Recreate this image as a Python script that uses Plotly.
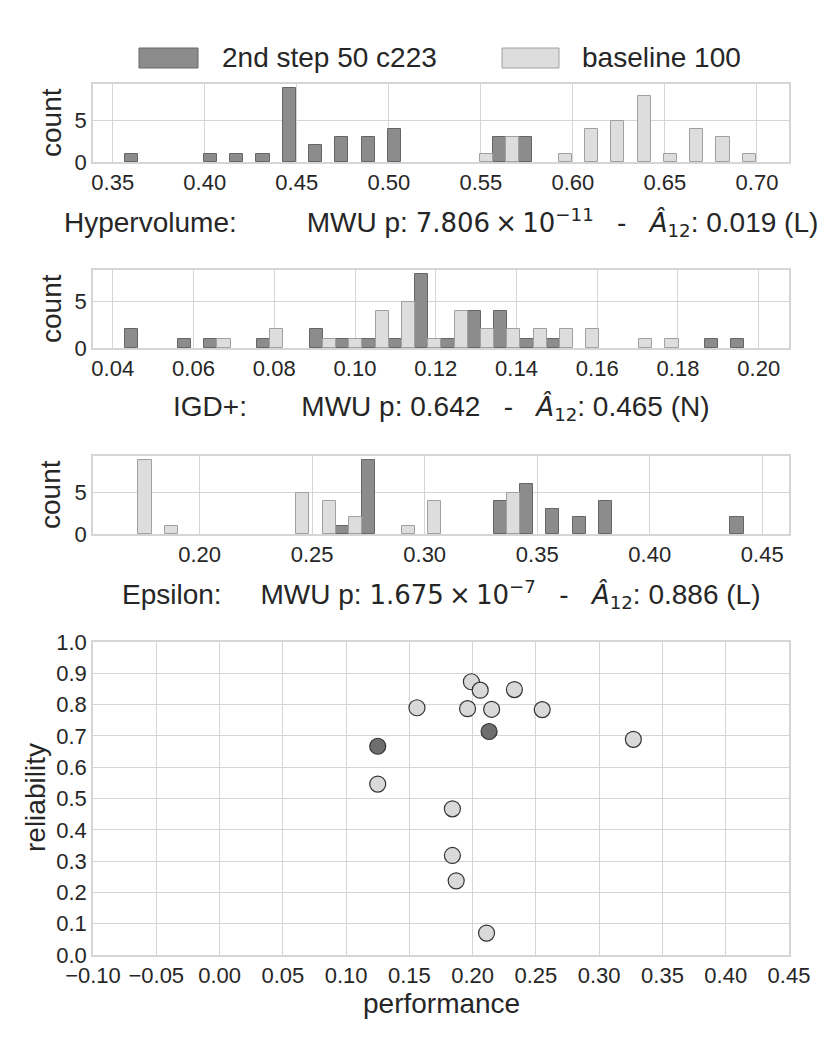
import numpy as np
import plotly.graph_objects as go
from plotly.subplots import make_subplots

# --- data ------------------------------------------------------------------
series_names = ["2nd step 50 c223", "baseline 100"]

# histogram bins (24 bins per metric) and counts per series
hv_bin_start, hv_bin_width = 0.3567, 0.01428
hv_step2 = [1, 0, 0, 1, 1, 1, 9, 2, 3, 3, 4, 0, 0, 0, 3, 3, 0, 0, 0, 0, 0, 0, 0, 0]
hv_base = [0, 0, 0, 0, 0, 0, 0, 0, 0, 0, 0, 0, 0, 1, 3, 0, 1, 4, 5, 8, 1, 4, 3, 1]

igd_bin_start, igd_bin_width = 0.04307, 0.006527
igd_step2 = [2, 0, 1, 1, 0, 1, 0, 2, 1, 1, 1, 8, 1, 4, 4, 1, 1, 0, 0, 0, 0, 0, 1, 1]
igd_base = [0, 0, 0, 1, 0, 2, 0, 1, 1, 4, 5, 1, 4, 2, 2, 2, 2, 2, 0, 1, 1, 0, 0, 0]

eps_bin_start, eps_bin_width = 0.1669, 0.011695
eps_step2 = [0, 0, 0, 0, 0, 0, 0, 0, 1, 9, 0, 0, 0, 0, 4, 6, 3, 2, 4, 0, 0, 0, 0, 2]
eps_base = [9, 1, 0, 0, 0, 0, 5, 4, 2, 0, 1, 4, 0, 0, 5, 0, 0, 0, 0, 0, 0, 0, 0, 0]

# scatter: performance vs reliability
perf_step2 = [0.125, 0.213]
rel_step2 = [0.667, 0.714]
perf_base = [0.199, 0.206, 0.233, 0.156, 0.196, 0.215, 0.255, 0.327,
             0.125, 0.184, 0.184, 0.187, 0.211]
rel_base = [0.873, 0.846, 0.848, 0.790, 0.787, 0.785, 0.784, 0.689,
            0.546, 0.467, 0.318, 0.237, 0.070]

# stats lines under each histogram
nb = "\u00a0"
th = "\u2009"
math_span = "<span style='font-family:DejaVu Sans;font-size:26px'>{}</span>"
a12 = math_span.format("<i>Â</i><sub>12</sub>")
hv_label = ("Hypervolume:" + nb * 9 + "MWU p: "
            + math_span.format(f"7.806{th}×{th}10<sup>−11</sup>")
            + nb * 3 + "-" + nb * 3 + a12 + ": 0.019 (L)")
igd_label = ("IGD+:" + nb * 7 + "MWU p: 0.642" + nb * 3 + "-" + nb * 3
             + a12 + ": 0.465 (N)")
eps_label = ("Epsilon:" + nb * 5 + "MWU p: "
             + math_span.format(f"1.675{th}×{th}10<sup>−7</sup>")
             + nb * 3 + "-" + nb * 3 + a12 + ": 0.886 (L)")

# --- styling ---------------------------------------------------------------
dark_fill, dark_edge = "#8c8c8c", "#666666"
light_fill, light_edge = "#dddddd", "#a0a0a0"
grid = "#d5d5d5"
txt = "#262626"
font = "Liberation Sans"

W, H = 830, 1038
OFF = 8  # the page body adds an 8px margin around the plot div


def px_x(x):
    return (x - OFF) / W


def px_y(y):
    return 1 - (y - OFF) / H


x_dom = [px_x(93), px_x(789)]


def ydom(top_px, bottom_px):
    return [px_y(bottom_px), px_y(top_px)]


fig = make_subplots(rows=4, cols=1)

hists = [
    (hv_bin_start, hv_bin_width, hv_step2, hv_base),
    (igd_bin_start, igd_bin_width, igd_step2, igd_base),
    (eps_bin_start, eps_bin_width, eps_step2, eps_base),
]
for row, (start, width, c1, c2) in enumerate(hists, start=1):
    centers = start + width * (np.arange(len(c1)) + 0.5)
    # empty bins get no outline so they don't leave stubs on the baseline
    lw1 = [1 if c > 0 else 0 for c in c1]
    lw2 = [1 if c > 0 else 0 for c in c2]
    fig.add_trace(go.Bar(x=centers, y=c1, name=series_names[0], showlegend=False,
                         marker=dict(color=dark_fill, line=dict(color=dark_edge, width=lw1))),
                  row=row, col=1)
    fig.add_trace(go.Bar(x=centers, y=c2, name=series_names[1], showlegend=False,
                         marker=dict(color=light_fill, line=dict(color=light_edge, width=lw2))),
                  row=row, col=1)

fig.add_trace(go.Scatter(x=perf_base, y=rel_base, mode="markers", showlegend=False,
                         marker=dict(size=16, color="#d9d9d9",
                                     line=dict(color="#333333", width=1.2))),
              row=4, col=1)
fig.add_trace(go.Scatter(x=perf_step2, y=rel_step2, mode="markers", showlegend=False,
                         marker=dict(size=16, color="#6e6e6e",
                                     line=dict(color="#333333", width=1.2))),
              row=4, col=1)

axis_common = dict(showgrid=True, gridcolor=grid, gridwidth=1.3, showline=True,
                   linecolor=grid, linewidth=1.5, mirror=True, zeroline=False,
                   automargin=False, ticks="",
                   tickfont=dict(family=font, size=22, color=txt))

# histogram axes
fig.update_xaxes(axis_common, row=1, col=1, domain=x_dom, range=[0.3393, 0.7174],
                 tickvals=[0.35, 0.40, 0.45, 0.50, 0.55, 0.60, 0.65, 0.70], tickformat=".2f")
fig.update_xaxes(axis_common, row=2, col=1, domain=x_dom, range=[0.0351, 0.2075],
                 tickvals=[0.04, 0.06, 0.08, 0.10, 0.12, 0.14, 0.16, 0.18, 0.20], tickformat=".2f")
fig.update_xaxes(axis_common, row=3, col=1, domain=x_dom, range=[0.1526, 0.4619],
                 tickvals=[0.20, 0.25, 0.30, 0.35, 0.40, 0.45], tickformat=".2f")
fig.update_yaxes(axis_common, row=1, col=1, domain=ydom(84, 162), range=[0, 9.45], tickvals=[0, 5])
fig.update_yaxes(axis_common, row=2, col=1, domain=ydom(270, 348), range=[0, 8.4], tickvals=[0, 5])
fig.update_yaxes(axis_common, row=3, col=1, domain=ydom(456, 534), range=[0, 9.45], tickvals=[0, 5])

# scatter axes
fig.update_xaxes(axis_common, row=4, col=1, domain=x_dom, range=[-0.10, 0.45],
                 dtick=0.05, tick0=-0.10, tickformat=".2f")
fig.update_yaxes(axis_common, row=4, col=1, domain=ydom(642, 955), range=[0, 1.0],
                 dtick=0.1, tick0=0, tickformat=".1f")

ann = []
label_font = dict(family=font, size=28, color=txt)
for y_px in (123, 309, 495):
    ann.append(dict(text="count", x=px_x(51), y=px_y(y_px), xref="paper", yref="paper",
                    textangle=-90, showarrow=False, font=label_font,
                    xanchor="center", yanchor="middle"))
for text, y_px in ((hv_label, 222), (igd_label, 408), (eps_label, 594)):
    ann.append(dict(text=text, x=px_x(441), y=px_y(y_px), xref="paper", yref="paper",
                    showarrow=False, font=label_font, xanchor="center", yanchor="middle"))
ann.append(dict(text="performance", x=px_x(441), y=px_y(1003), xref="paper", yref="paper",
                showarrow=False, font=label_font, xanchor="center", yanchor="middle"))
ann.append(dict(text="reliability", x=px_x(35), y=px_y(798), xref="paper", yref="paper",
                textangle=-90, showarrow=False, font=label_font,
                xanchor="center", yanchor="middle"))

# legend drawn as patches + labels (matplotlib-like wide swatches)
shapes = []
for (x0, x1, tx), name, fill, edge in zip(((139, 198, 220), (502, 559, 580)),
                                          series_names, (dark_fill, light_fill),
                                          (dark_edge, light_edge)):
    shapes.append(dict(type="rect", xref="paper", yref="paper",
                       x0=px_x(x0), x1=px_x(x1), y0=px_y(68), y1=px_y(48),
                       fillcolor=fill, line=dict(color=edge, width=1)))
    ann.append(dict(text=name, x=px_x(tx), y=px_y(58), xref="paper", yref="paper",
                    showarrow=False, font=label_font, xanchor="left", yanchor="middle"))

fig.update_layout(
    width=W, height=H,
    margin=dict(l=0, r=0, t=0, b=0, pad=0, autoexpand=False),
    paper_bgcolor="white", plot_bgcolor="white",
    barmode="group", bargap=0, bargroupgap=0,
    annotations=ann, shapes=shapes,
    font=dict(family=font, color=txt),
)

fig.write_html("out.html")
